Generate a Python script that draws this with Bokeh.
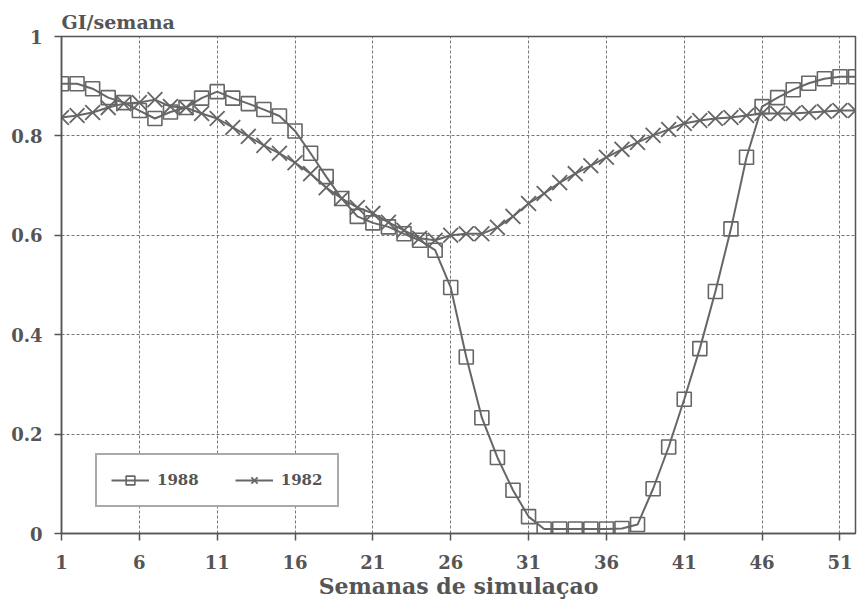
from bokeh.plotting import figure
from bokeh.models import (FixedTicker, CustomJSTickFormatter, Legend, LegendItem,
                          Range1d, Title)
from bokeh.embed import file_html
from bokeh.resources import INLINE

weeks = list(range(1, 53))

gi_1988 = [0.905, 0.905, 0.895, 0.877, 0.867, 0.851, 0.835, 0.848, 0.857, 0.876,
           0.889, 0.876, 0.865, 0.853, 0.840, 0.810, 0.765, 0.718, 0.674, 0.638,
           0.625, 0.617, 0.603, 0.590, 0.570, 0.495, 0.355, 0.233, 0.153, 0.087,
           0.034, 0.009, 0.009, 0.009, 0.009, 0.009, 0.010, 0.018, 0.090, 0.174,
           0.270, 0.372, 0.487, 0.613, 0.757, 0.859, 0.877, 0.893, 0.906, 0.915,
           0.919, 0.919]

gi_1982 = [0.837, 0.841, 0.847, 0.857, 0.865, 0.867, 0.873, 0.859, 0.857, 0.845,
           0.835, 0.817, 0.799, 0.781, 0.765, 0.746, 0.724, 0.696, 0.674, 0.656,
           0.644, 0.626, 0.610, 0.594, 0.590, 0.600, 0.603, 0.603, 0.616, 0.638,
           0.664, 0.684, 0.706, 0.724, 0.740, 0.757, 0.773, 0.787, 0.801, 0.813,
           0.825, 0.831, 0.835, 0.837, 0.841, 0.845, 0.845, 0.845, 0.847, 0.849,
           0.851, 0.851]

x_ticks = [1, 6, 11, 16, 21, 26, 31, 36, 41, 46, 51]
y_ticks = [0, 0.2, 0.4, 0.6, 0.8, 1.0]
series_labels = ["1988", "1982"]

FONT = "DejaVu Serif"
INK = "#555555"
LINE = "#666666"

p = figure(width=858, height=604, output_backend="svg", toolbar_location=None,
           x_range=Range1d(1, 52), y_range=Range1d(0, 1),
           min_border_left=61, min_border_right=3, min_border_top=36,
           min_border_bottom=71, background_fill_color="white",
           border_fill_color="white")

p.add_layout(Title(text="GI/semana", text_font=FONT, text_font_size="19px",
                   text_font_style="bold", text_color=INK, align="left",
                   offset=0, standoff=8), "above")

p.outline_line_color = INK
p.outline_line_width = 1.5

for ax in (p.xaxis[0], p.yaxis[0]):
    ax.axis_line_color = INK
    ax.axis_line_width = 1.5
    ax.major_tick_line_color = INK
    ax.major_tick_line_width = 1.5
    ax.major_tick_out = 7
    ax.major_tick_in = 0
    ax.minor_tick_line_color = None
    ax.major_label_text_font = FONT
    ax.major_label_text_font_style = "bold"
    ax.major_label_text_font_size = "18px"
    ax.major_label_text_color = INK

p.xaxis.ticker = FixedTicker(ticks=x_ticks)
p.yaxis.ticker = FixedTicker(ticks=y_ticks)
p.yaxis.formatter = CustomJSTickFormatter(code="return String(Math.round(tick*10)/10);")
p.xaxis.major_label_standoff = 14
p.yaxis.major_label_standoff = 12

p.xaxis.axis_label = "Semanas de simulaçao"
p.xaxis.axis_label_text_font = FONT
p.xaxis.axis_label_text_font_style = "bold"
p.xaxis.axis_label_text_font_size = "22px"
p.xaxis.axis_label_text_color = INK
p.xaxis.axis_label_standoff = 1

p.xgrid.ticker = FixedTicker(ticks=x_ticks)
p.ygrid.ticker = FixedTicker(ticks=y_ticks)
for g in (p.xgrid[0], p.ygrid[0]):
    g.grid_line_color = "#777777"
    g.grid_line_width = 1
    g.grid_line_dash = "3 2"

l88 = p.line(weeks, gi_1988, line_color=LINE, line_width=2)
s88 = p.scatter(weeks, gi_1988, marker="square", size=14, fill_color=None,
                line_color=LINE, line_width=1.6)
l82 = p.line(weeks, gi_1982, line_color=LINE, line_width=2)
s82 = p.scatter(weeks, gi_1982, marker="x", size=21, line_color=LINE, line_width=1.8)

legend = Legend(items=[LegendItem(label=series_labels[0], renderers=[l88, s88]),
                       LegendItem(label=series_labels[1], renderers=[l82, s82])],
                orientation="horizontal", location=(34, 26),
                border_line_color=INK, border_line_width=2,
                background_fill_color="white", background_fill_alpha=1,
                label_text_font=FONT, label_text_font_style="bold",
                label_text_font_size="15px", label_text_color=INK,
                glyph_width=38, glyph_height=22, spacing=36,
                padding=14, margin=0, label_standoff=8)
p.add_layout(legend, "center")

open("out.html", "w").write(file_html(p, INLINE))
